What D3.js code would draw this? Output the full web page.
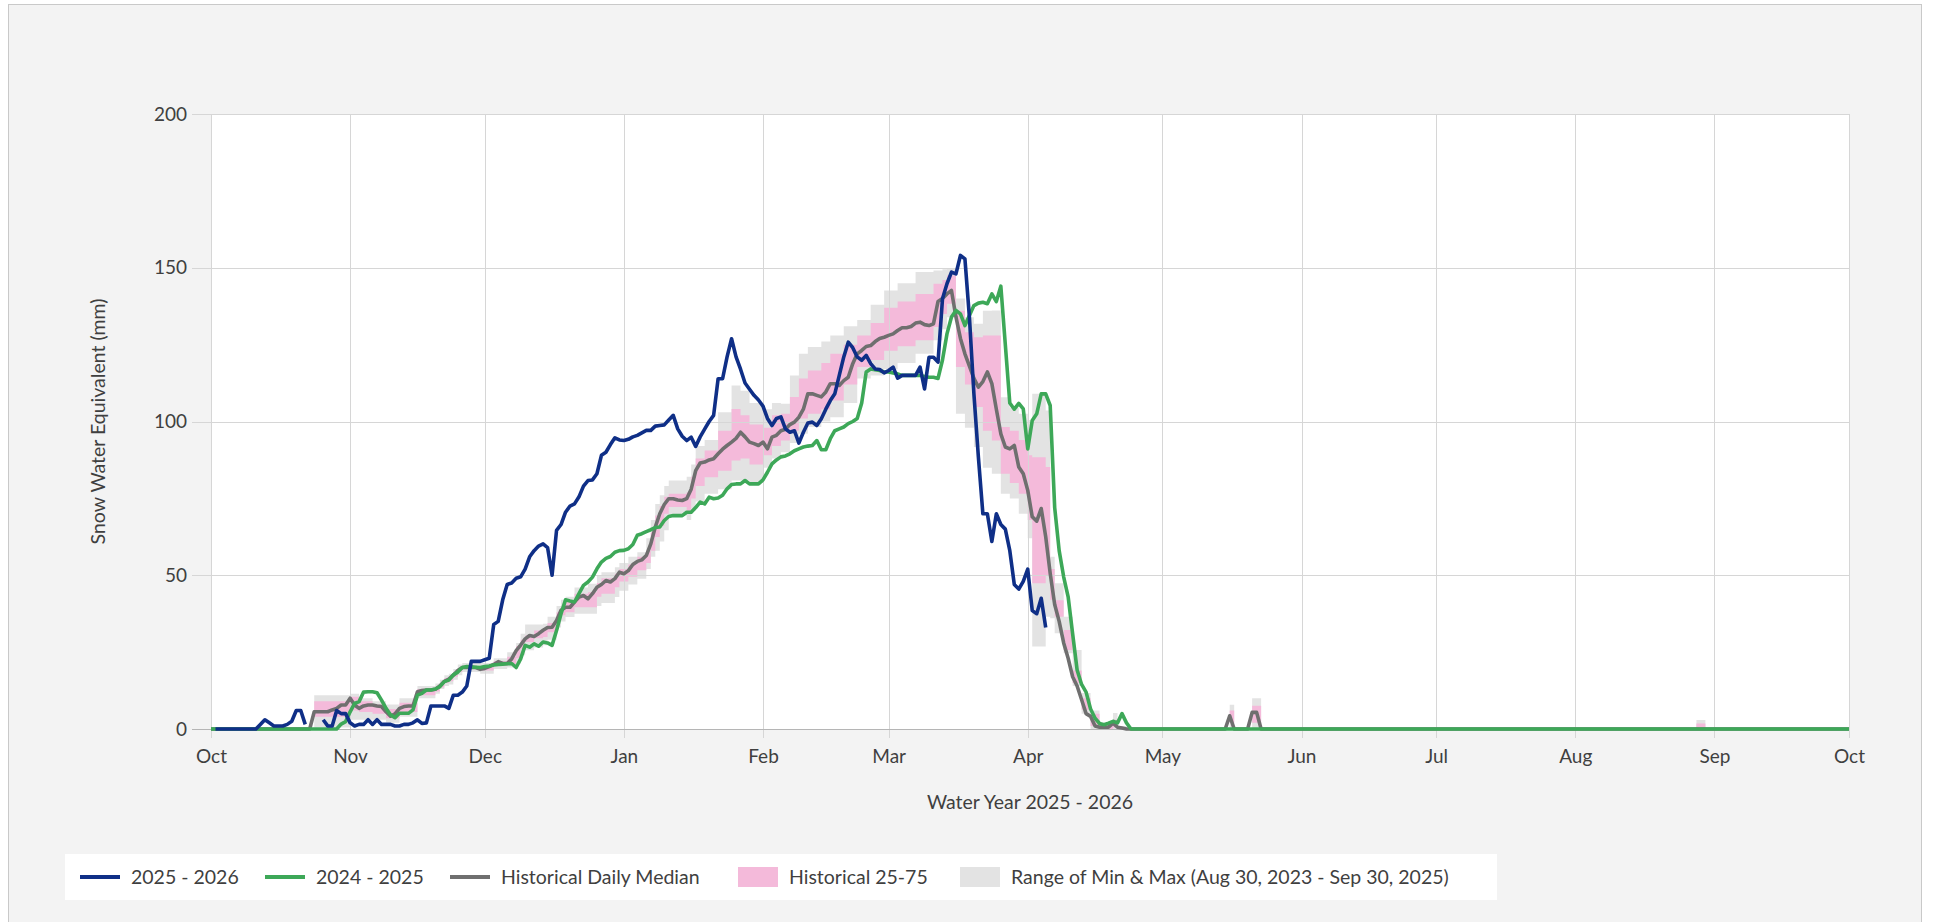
<!DOCTYPE html>
<html>
<head>
<meta charset="utf-8">
<script src="https://cdn.jsdelivr.net/npm/d3@7"></script>
<style>
html,body{margin:0;padding:0;background:#ffffff;}
svg{display:block;font-family:Lato,"Open Sans",sans-serif;}
</style>
</head>
<body>
<svg id="chart" width="1933" height="922"></svg>
<script>
// ---------------- DATA ----------------
const waterYearStart = "2025-10-01";
const waterYearEnd = "2026-10-01";
const yTickValues = [0, 50, 100, 150, 200];
const xTitle = "Water Year 2025 - 2026";
const yTitle = "Snow Water Equivalent (mm)";
const legendLabels = ["2025 - 2026", "2024 - 2025", "Historical Daily Median", "Historical 25-75", "Range of Min & Max (Aug 30, 2023 - Sep 30, 2025)"];

// daily values (mm) from Oct 1; null = missing
const swe2025_26 = [null,0,0,0,0,0,0,0,0,0,0,
1.5,3,2,1,1,1,1.5,2.5,6,6,
1.5,null,null,null,3,1,1,6,5,5,
2,1,1.5,1.5,3,1.5,3,1.5,1.5,1.5,
1,1,1.5,1.5,2,3,1.8,2,7.5,7.5,
7.5,7.5,6.7,11,11,12,14,22,22,22,
22.5,23,34,35,42,47,47.5,49,49.5,52,
56,58,59.5,60.2,59,50,64.6,66.5,70.5,72.5,
73.2,75.5,79,80.8,81,83,89,90,92.5,94.7,
94,93.8,94.2,95,95.5,96.3,97.1,97.1,98.5,98.7,
98.9,100.5,102,97.6,95.2,93.8,94.9,91.9,95,97.5,
100,102,113.9,113.9,121,126.9,121,117,112.5,110.5,
108.5,107,105,101,98.7,101,101.5,97.6,96.5,97,
93,96.5,99.5,99.8,98.7,100.9,104,106.8,109,115,
121,125.8,124,121,119.9,121.5,118.8,117.1,116.9,115.8,
116.6,117.7,114.1,115,115,115,115,117.7,110.6,120.9,
120.9,119.3,139.9,144.8,148.6,148,154,152.9,133.9,109,
88.4,70,70,61,70,66.5,65,58,47,45.5,
48,52,38.5,37.5,42.5,33];

const swe2024_25 = [0,0,0,0,0,0,0,0,0,0,
0,0,0,0,0,0,0,0,0,0,
0,0,0,0,0,0,0,0,0,1.6,
2.4,5.6,8.3,8.9,12,12.1,12.1,11.8,9.4,6.7,
4.6,3.7,5.1,5.1,5.1,6.2,11,11.6,12.7,12.7,
13,13.8,15.4,15.9,17.6,18.5,20,20.3,20.2,20.1,
20,20.3,20.5,20.8,21,21.1,21.2,21.3,20,22.8,
27.2,26.6,27.7,26.9,28.3,28,27.2,32,37.5,42,
41.6,41.3,44,46.7,47.8,49.4,52.1,54.3,55.5,56.1,
57.5,58,58.1,58.6,60,63,63.5,64.2,64.8,65.5,
65.7,67.8,69.1,69.4,69.4,69.4,70.5,70.5,72,73.8,
73.2,75.4,74.9,75.1,76,78.1,79.5,79.7,79.7,80.8,
79.7,79.7,79.7,81,83.5,86.2,87.5,88.5,88.8,89.5,
90.5,91.1,91.7,92,92.2,93.8,90.8,90.8,94.4,97,
97.6,98.2,99.3,100,101,106,116.1,117.1,116.8,116.6,
116.1,116.1,115.8,115.5,115,115,115,115,115,114.6,
114.4,114.4,114,120,128.5,134,136.1,135,131.2,134.5,
137.7,138.5,138.8,138.3,141.5,139,144,125,106,104,
105.9,104.1,91.1,100.3,102.5,109,109,105.2,72,58,
49.5,43,31,19.2,14.5,12,6.5,3.5,1.8,1.4,
1.9,2.5,2,5,2,0];

const medianDaily = [0,0,0,0,0,0,0,0,0,0,
0,0,0,0,0,0,0,0,0,0,
0,0,0,5.6,5.6,5.6,5.6,6.2,6.7,7.8,
7.8,10,7.8,6.7,7.5,7.8,7.8,7.5,7.3,5.6,
4.2,4.9,6.7,7.3,7.5,7.5,12.1,12.5,12.7,12.7,
12.9,14,15.5,16.2,17.5,19,20,20,20,20,
19.4,19.7,20.3,21,21.9,21.3,21.3,22.8,25.5,27.3,
29.3,30.4,30.1,31,32.1,33,33.1,35.3,38.6,39.6,
39.6,41.3,42.9,43.4,42.3,44,46.1,47,48.3,47.8,
48.9,51,50.5,51.5,53.5,54.5,55,56.4,60.2,65.7,
70,73,74.9,74.9,74.5,74.3,74.9,78,84,86.5,
86.8,87.5,87.9,89.5,91,92.2,93.3,94.5,96.5,95,
93.3,92.8,92.2,93.3,91.1,94.9,95.5,97,97.5,99,
99.8,101.4,104,109,109,108.5,108,109.6,112.3,112.3,
111.7,113.3,114.4,118.8,122,123.1,124.4,124.7,126,127,
127.4,128,128.5,129.6,130.5,130.5,130.9,132,132.3,131.5,
131.2,131.8,139,140,141.5,142.6,134,127,122,118,
114,111.2,113,116.1,112.3,104,96,91.7,91.1,92.2,
85.2,83,77.6,69,67.6,71.7,62.5,50.6,40.5,35,
28,23,17,14,9.5,5,4.1,1,0.6,0.6,
0.6,1.9,0.6,0.3,0,0,0,0,0,0,
0,0,0,0,0,0,0,0,0,0,
0,0,0,0,0,0,0,4.3,0,0,
0,0,5.4,5.4,0,0];

// after their last listed day, these series stay at 0 until this day
const zeroUntilDay = 365;

// historical band (step per listed day)
const bandDays = [0,23,31,33,36,39,42,46,50,51,52,53,54,55,56,60,63,66,68,69,70,72,74,75,77,78,79,81,84,86,87,90,91,93,95,97,98,99,100,101,102,106,107,108,110,113,116,118,120,123,125,127,129,131,133,136,138,141,144,147,150,153,157,161,163,164,166,168,170,172,174,176,178,180,182,183,186,187,188,190,192,194,196,198,201,202,204,227,228,232,234,331,333,365];
const bandMin = [0,0.5,3,3,3,2,4,10,11.5,13,14,14.5,16,17.5,18.5,18,19.5,20,21.2,24,25.6,26.5,27.2,29,33,35,36.4,37.5,37.5,40,41,42.9,45,47,48.9,52,56,58,61,64.6,69.4,68,71,74,76.5,78,80.8,80.8,80,85,88,90,93,96,98.2,100,101.4,106,114,115,117,119,122,126.4,130,133.9,102.5,98,91.7,85,83,76.5,75,70,62,26.8,36.5,36,31.1,24.6,14,5,0,0,0,0,0,0,0,0,0,0,0,0];
const bandP25 = [0,4,6,5.5,5,3.5,5.5,11,12.2,13.5,15,15.5,17,18.5,19.5,19,20.5,21,23,26,28.3,29.5,29.9,31.5,35,37,38,39.6,39.6,43,44,46.1,48,49.5,51.6,54,58,62.4,66,70,72.2,71,75,79,81.9,84,87.3,88,86,89,92,93.8,97,101,102.5,104,106.8,112,117.7,120,123,124.5,126.4,130.7,135,138.3,117.7,112,104.7,97,93.8,83,80,76.5,68,47.4,50,42,36.5,25.7,15,6.3,1,0,0.5,0,0,2,0,2,0,0,0,0];
const bandP75 = [0,9,10.5,9,8,6.5,8.5,13,13.8,15,16.5,17,18.5,19.8,20.5,20.5,22,23.5,27,29,30.4,32,32.6,34.5,38,40,41.3,44,44.5,47.5,49,50.5,52,53.5,56,58,64,69.4,72.5,75.5,76.5,77,82,88,90.6,97,104.1,102,99,98,102,102.5,108,114,116.6,119,122,125,128,132,137,139,141.5,144.8,146,147.5,136,129,127.4,128,128,98.2,97,94,89,88.4,85.2,52,41.9,32.2,19,10,5,1,3,0.5,0,6,0,7.6,0,1.8,0,0];
const bandMax = [0,11,11.5,10,9,8,10,14,14.8,16,17.5,18,19.5,21,21.5,21.5,23,25,28,31,34,34,34.2,36.5,40,42,43,46,47.2,50,51,52.6,54,56,57.5,62,68,73.2,76,79,80.8,82,86,92,94,103,111.7,110,106,104,106,105.8,115,122,124.2,126,128,131,133,138,142.6,145,148.6,149.1,149.5,149.7,140,133.9,131.8,136,136.1,107.9,104.5,102.5,100.5,109,103.6,56,47.4,36.5,25.7,11.7,6,2,5.2,1,0,7.9,0,10,0,2.9,0,0];

// ---------------- CHART ----------------
const parse = d3.utcParse("%Y-%m-%d");
const start = parse(waterYearStart), end = parse(waterYearEnd);
const dayDate = i => d3.utcDay.offset(start, i);

const svg = d3.select("#chart");
const plotL = 211, plotR = 1849, plotT = 114, plotB = 729;
const x = d3.scaleUtc().domain([start, end]).range([plotL, plotR]);
const y = d3.scaleLinear().domain([0, 200]).range([plotB, plotT]);

const textColor = "#3f3f3f";
const colors = {cur: "#0f2f87", prev: "#3da858", median: "#6f6f6f", iqr: "#f4bada", range: "#e3e3e3"};

// panel background
svg.append("rect").attr("x", 8.5).attr("y", 4.5).attr("width", 1913).attr("height", 940)
  .attr("fill", "#f3f3f3").attr("stroke", "#c9c9c9");
svg.append("rect").attr("x", plotL).attr("y", plotT).attr("width", plotR - plotL).attr("height", plotB - plotT).attr("fill", "#ffffff");

// bands
const band = bandDays.map((d, i) => ({d, min: bandMin[i], p25: bandP25[i], p75: bandP75[i], max: bandMax[i]}));
const areaRange = d3.area().curve(d3.curveStepAfter).x(b => x(dayDate(b.d))).y0(b => y(b.min)).y1(b => y(b.max));
const areaIqr = d3.area().curve(d3.curveStepAfter).x(b => x(dayDate(b.d))).y0(b => y(b.p25)).y1(b => y(b.p75));
svg.append("path").datum(band).attr("d", areaRange).attr("fill", colors.range);
svg.append("path").datum(band).attr("d", areaIqr).attr("fill", colors.iqr);

// gridlines
const monthTicks = d3.utcMonth.range(start, d3.utcDay.offset(end, 1));
svg.append("g").selectAll("line").data(monthTicks).join("line")
  .attr("x1", d => Math.round(x(d)) + 0.5).attr("x2", d => Math.round(x(d)) + 0.5)
  .attr("y1", plotT).attr("y2", plotB + 9).attr("stroke", "#d6d6d6");
svg.append("g").selectAll("line").data(yTickValues.filter(v => v > 0)).join("line")
  .attr("x1", plotL - 19).attr("x2", plotR).attr("y1", v => Math.round(y(v)) + 0.5).attr("y2", v => Math.round(y(v)) + 0.5)
  .attr("stroke", "#d6d6d6");
svg.append("line").attr("x1", plotL - 19).attr("x2", plotR).attr("y1", plotB + 0.5).attr("y2", plotB + 0.5).attr("stroke", "#b5b5b5");

// axes labels
const yAxis = d3.axisLeft(y).tickValues(yTickValues).tickSize(19).tickPadding(5);
const gy = svg.append("g").attr("transform", `translate(${plotL},0)`).call(yAxis);
gy.select(".domain").remove(); gy.selectAll("line").remove();
gy.selectAll("text").attr("fill", textColor).style("font-size", "19px").style("font-family", "Lato");

const xAxis = d3.axisBottom(x).ticks(d3.utcMonth.every(1)).tickFormat(d3.utcFormat("%b")).tickSize(9).tickPadding(12);
const gx = svg.append("g").attr("transform", `translate(0,${plotB})`).call(xAxis);
gx.select(".domain").remove(); gx.selectAll("line").remove();
gx.selectAll("text").attr("fill", textColor).style("font-size", "19px").style("font-family", "Lato");

// lines
function padSeries(arr) {
  const pts = arr.map((v, i) => ({d: i, v}));
  pts.push({d: zeroUntilDay, v: 0});
  return pts;
}
const line = d3.line().defined(p => p.v !== null).x(p => x(dayDate(p.d))).y(p => y(p.v));
svg.append("path").datum(padSeries(medianDaily)).attr("d", line).attr("fill", "none")
  .attr("stroke", colors.median).attr("stroke-width", 3.6).attr("stroke-linejoin", "round");
svg.append("path").datum(padSeries(swe2024_25)).attr("d", line).attr("fill", "none")
  .attr("stroke", colors.prev).attr("stroke-width", 3.6).attr("stroke-linejoin", "round");
svg.append("path").datum(swe2025_26.map((v, i) => ({d: i, v}))).attr("d", line).attr("fill", "none")
  .attr("stroke", colors.cur).attr("stroke-width", 3.6).attr("stroke-linejoin", "round");

// axis titles
svg.append("text").attr("x", (plotL + plotR) / 2).attr("y", 809).attr("text-anchor", "middle")
  .attr("fill", textColor).style("font-size", "19.5px").text(xTitle);
svg.append("text").attr("transform", `translate(105,${(plotT + plotB) / 2}) rotate(-90)`).attr("text-anchor", "middle")
  .attr("fill", textColor).style("font-size", "19.5px").text(yTitle);

// legend
svg.append("rect").attr("x", 65).attr("y", 854).attr("width", 1432).attr("height", 46).attr("fill", "#ffffff");
const legendItems = [
  {label: legendLabels[0], type: "line", color: colors.cur, x: 80},
  {label: legendLabels[1], type: "line", color: colors.prev, x: 265},
  {label: legendLabels[2], type: "line", color: colors.median, x: 450},
  {label: legendLabels[3], type: "box", color: colors.iqr, x: 738},
  {label: legendLabels[4], type: "box", color: colors.range, x: 960}
];
const lg = svg.append("g").selectAll("g").data(legendItems).join("g").attr("transform", d => `translate(${d.x},877)`);
lg.filter(d => d.type === "line").append("line").attr("x1", 0).attr("x2", 40).attr("y1", 0).attr("y2", 0)
  .attr("stroke", d => d.color).attr("stroke-width", 3.8);
lg.filter(d => d.type === "box").append("rect").attr("x", 0).attr("y", -10).attr("width", 40).attr("height", 20)
  .attr("fill", d => d.color);
lg.append("text").attr("x", 51).attr("dy", "0.35em")
  .attr("fill", textColor).style("font-size", "19.5px").text(d => d.label);
</script>
</body>
</html>
